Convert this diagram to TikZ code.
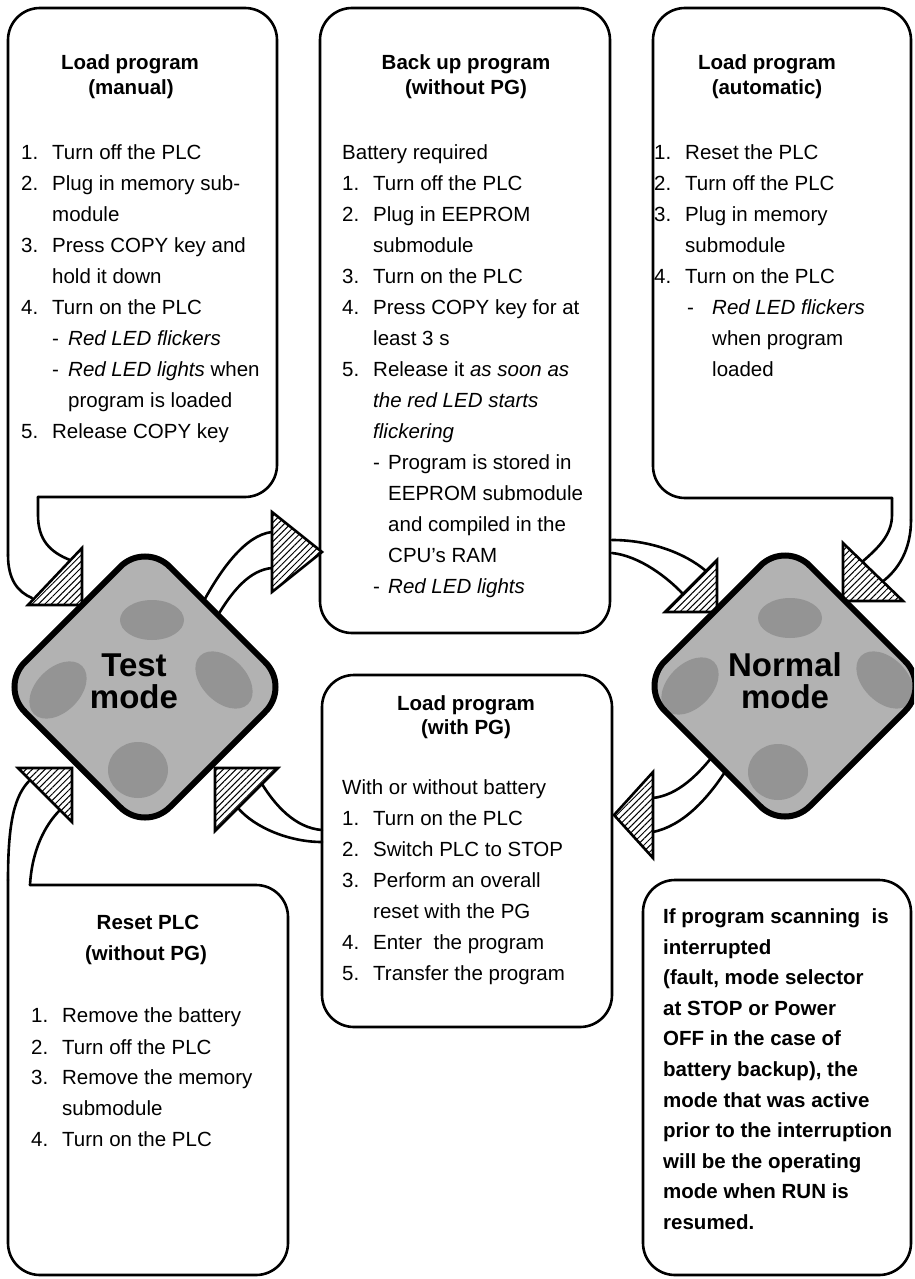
\documentclass[tikz,border=0pt]{standalone}
\usepackage{fontspec}
\setmainfont{Liberation Sans}
\usetikzlibrary{patterns.meta}
\newcommand\nm[1]{\makebox[31pt][l]{#1}}
\tikzset{
  bx/.style={line width=2.6pt, line join=round, line cap=round},
  shaft/.style={line width=2.6pt, line cap=round},
  ahead/.style={line width=2.6pt, line join=miter, fill=white,
    postaction={pattern={Lines[angle=45,distance=4.5pt,line width=1pt]}}},
  diamfill/.style={fill=black!30, rounded corners=35},
  diamline/.style={line width=6pt, rounded corners=35},
  blob/.style={fill=black!42},
  modetxt/.style={font=\fontsize{33}{32}\selectfont\bfseries, inner sep=0pt, anchor=base, align=center},
  t/.style={font=\fontsize{20.5}{24}\selectfont, inner sep=0pt, anchor=base west},
  tb/.style={font=\fontsize{20.5}{24}\selectfont\bfseries, inner sep=0pt, anchor=base west},
  ttl/.style={font=\fontsize{20.5}{24}\selectfont\bfseries, inner sep=0pt, anchor=base}
}
\begin{document}
\begin{tikzpicture}[x=1pt,y=-1pt]
\useasboundingbox (0,0) rectangle (914,1279);
\clip (0,0) rectangle (914,1279);
\fill[white] (0,0) rectangle (914,1279);

% ---- boxes ----
\draw[bx, rounded corners=32] (38,497) -| (277,8) -| (8,555);
\draw[bx, rounded corners=32] (320,8) rectangle (610,633);
\draw[bx, rounded corners=32] (892,498) -| (653,8) -| (911,520);
\draw[bx, rounded corners=32] (322,675) rectangle (612,1027);
\draw[bx, rounded corners=32] (30,885) -| (288,1275) -| (8,880);
\draw[bx, rounded corners=32] (643,880) rectangle (911,1275);

% ---- shafts ----
% box 1 -> Test
\draw[shaft] (8,555) .. controls (8,580) and (18,592) .. (32,598);
\draw[shaft] (38,497) -- (38,515) .. controls (38,540) and (50,552) .. (70,560);
% Test -> back up box
\draw[shaft] (200,608) .. controls (220,570) and (245,535) .. (272,532);
\draw[shaft] (214,622) .. controls (232,590) and (250,570) .. (272,568);
% back up box -> Normal
\draw[shaft] (612,540) .. controls (650,540) and (685,553) .. (706,571);
\draw[shaft] (612,553) .. controls (640,556) and (668,578) .. (683,594);
% automatic box -> Normal
\draw[shaft] (911,520) .. controls (911,550) and (898,570) .. (882,582);
\draw[shaft] (892,498) -- (892,515) .. controls (892,535) and (878,548) .. (862,562);
% reset box -> Test
\draw[shaft] (8,880) .. controls (8,820) and (15,795) .. (30,780);
\draw[shaft] (30,885) .. controls (32,850) and (45,825) .. (60,810);
% with PG box -> Test
\draw[shaft] (322,830) .. controls (295,828) and (275,805) .. (262,784);
\draw[shaft] (322,842) .. controls (290,842) and (255,828) .. (238,808);
% Normal -> with PG box
\draw[shaft] (716,752) .. controls (698,775) and (678,795) .. (653,798);
\draw[shaft] (730,764) .. controls (708,800) and (682,826) .. (653,832);

% ---- arrow heads ----
\draw[ahead] (82,548) -- (82,605) -- (28,605) -- cycle;
\draw[ahead] (272,512) -- (272,592) -- (322,552) -- cycle;
\draw[ahead] (717,560) -- (717,612) -- (665,612) -- cycle;
\draw[ahead] (843,543) -- (843,601) -- (903,601) -- cycle;
\draw[ahead] (18,768) -- (72,768) -- (72,822) -- cycle;
\draw[ahead] (215,768) -- (278,768) -- (215,831) -- cycle;
\draw[ahead] (653,772) -- (653,858) -- (614,815) -- cycle;

% ---- Test mode diamond ----
\fill[diamfill] (72.5,614.5) -- (145,542) -- (290,687) -- (145,832) -- (0,687) -- cycle;
\begin{scope}
\clip[rounded corners=35] (72.5,614.5) -- (145,542) -- (290,687) -- (145,832) -- (0,687) -- cycle;
\fill[blob, rotate around={45:(58,690)}] (58,690) ellipse [x radius=34pt, y radius=22pt];
\fill[blob, rotate around={-45:(224,680)}] (224,680) ellipse [x radius=34pt, y radius=22pt];
\fill[blob] (138,770) ellipse [x radius=30pt, y radius=28pt];
\fill[blob] (152,620) ellipse [x radius=32pt, y radius=20pt];
\end{scope}
\draw[diamline] (72.5,614.5) -- (145,542) -- (290,687) -- (145,832) -- (0,687) -- cycle;
\node[modetxt] (tm) at (134,708) {Test\\mode};

% ---- Normal mode diamond ----
\fill[diamfill] (712.5,613.5) -- (785,541) -- (930,686) -- (785,831) -- (640,686) -- cycle;
\begin{scope}
\clip[rounded corners=35] (712.5,613.5) -- (785,541) -- (930,686) -- (785,831) -- (640,686) -- cycle;
\fill[blob, rotate around={45:(690,686)}] (690,686) ellipse [x radius=34pt, y radius=22pt];
\fill[blob, rotate around={-45:(885,680)}] (885,680) ellipse [x radius=34pt, y radius=22pt];
\fill[blob] (778,772) ellipse [x radius=30pt, y radius=28pt];
\fill[blob] (790,618) ellipse [x radius=32pt, y radius=20pt];
\end{scope}
\draw[diamline] (712.5,613.5) -- (785,541) -- (930,686) -- (785,831) -- (640,686) -- cycle;
\node[modetxt] (nm) at (785,708) {Normal\\mode};

% ---- box 1 text ----
\node[ttl] (b1h1) at (130,70) {Load program};
\node[ttl] (b1h2) at (131,95) {(manual)};
\node[t] (b1a) at (21,159) {\nm{1.}Turn off the PLC};
\node[t] (b1b) at (21,190) {\nm{2.}Plug in memory sub-};
\node[t] (b1c) at (52,221) {module};
\node[t] (b1d) at (21,252) {\nm{3.}Press COPY key and};
\node[t] (b1e) at (52,283) {hold it down};
\node[t] (b1f) at (21,314) {\nm{4.}Turn on the PLC};
\node[t] (b1g) at (52,345) {\makebox[16pt][l]{-}\textit{Red LED flickers}};
\node[t] (b1h) at (52,376) {\makebox[16pt][l]{-}\textit{Red LED lights} when};
\node[t] (b1i) at (68,407) {program is loaded};
\node[t] (b1j) at (21,438) {\nm{5.}Release COPY key};

% ---- box 2 text ----
\node[ttl] (b2h1) at (466,70) {Back up program};
\node[ttl] (b2h2) at (466,95) {(without PG)};
\node[t] (b2a) at (342,159) {Battery required};
\node[t] (b2b) at (342,190) {\nm{1.}Turn off the PLC};
\node[t] (b2c) at (342,221) {\nm{2.}Plug in EEPROM};
\node[t] (b2d) at (373,252) {submodule};
\node[t] (b2e) at (342,283) {\nm{3.}Turn on the PLC};
\node[t] (b2f) at (342,314) {\nm{4.}Press COPY key for at};
\node[t] (b2g) at (373,345) {least 3 s};
\node[t] (b2h) at (342,376) {\nm{5.}Release it \textit{as soon as}};
\node[t] (b2i) at (373,407) {\textit{the red LED starts}};
\node[t] (b2j) at (373,438) {\textit{flickering}};
\node[t] (b2k) at (373,469) {\makebox[15pt][l]{-}Program is stored in};
\node[t] (b2l) at (388,500) {EEPROM submodule};
\node[t] (b2m) at (388,531) {and compiled in the};
\node[t] (b2n) at (388,562) {CPU’s RAM};
\node[t] (b2o) at (373,593) {\makebox[15pt][l]{-}\textit{Red LED lights}};

% ---- box 3 text ----
\node[ttl] (b3h1) at (767,70) {Load program};
\node[ttl] (b3h2) at (767,95) {(automatic)};
\node[t] (b3a) at (654,159) {\nm{1.}Reset the PLC};
\node[t] (b3b) at (654,190) {\nm{2.}Turn off the PLC};
\node[t] (b3c) at (654,221) {\nm{3.}Plug in memory};
\node[t] (b3d) at (685,252) {submodule};
\node[t] (b3e) at (654,283) {\nm{4.}Turn on the PLC};
\node[t] (b3f) at (687,314) {\makebox[25pt][l]{-}\textit{Red LED flickers}};
\node[t] (b3g) at (712,345) {when program};
\node[t] (b3h) at (712,376) {loaded};

% ---- with PG text ----
\node[ttl] (b4h1) at (466,710) {Load program};
\node[ttl] (b4h2) at (466,734) {(with PG)};
\node[t] (b4a) at (342,794) {With or without battery};
\node[t] (b4b) at (342,825) {\nm{1.}Turn on the PLC};
\node[t] (b4c) at (342,856) {\nm{2.}Switch PLC to STOP};
\node[t] (b4d) at (342,887) {\nm{3.}Perform an overall};
\node[t] (b4e) at (373,918) {reset with the PG};
\node[t] (b4f) at (342,949) {\nm{4.}Enter\ \ the program};
\node[t] (b4g) at (342,980) {\nm{5.}Transfer the program};

% ---- reset text ----
\node[ttl] (b5h1) at (148,929) {Reset PLC};
\node[ttl] (b5h2) at (146,960) {(without PG)};
\node[t] (b5a) at (31,1022) {\nm{1.}Remove the battery};
\node[t] (b5b) at (31,1054) {\nm{2.}Turn off the PLC};
\node[t] (b5c) at (31,1084) {\nm{3.}Remove the memory};
\node[t] (b5d) at (62,1115) {submodule};
\node[t] (b5e) at (31,1146) {\nm{4.}Turn on the PLC};

% ---- note text ----
\node[tb] (b6a) at (663,923) {If program scanning\ \ is};
\node[tb] (b6b) at (663,954) {interrupted};
\node[tb] (b6c) at (663,984) {(fault, mode selector};
\node[tb] (b6d) at (663,1015) {at STOP or Power};
\node[tb] (b6e) at (663,1045) {OFF in the case of};
\node[tb] (b6f) at (663,1076) {battery backup), the};
\node[tb] (b6g) at (663,1107) {mode that was active};
\node[tb] (b6h) at (663,1137) {prior to the interruption};
\node[tb] (b6i) at (663,1168) {will be the operating};
\node[tb] (b6j) at (663,1198) {mode when RUN is};
\node[tb] (b6k) at (663,1229) {resumed.};
\end{tikzpicture}
\end{document}
